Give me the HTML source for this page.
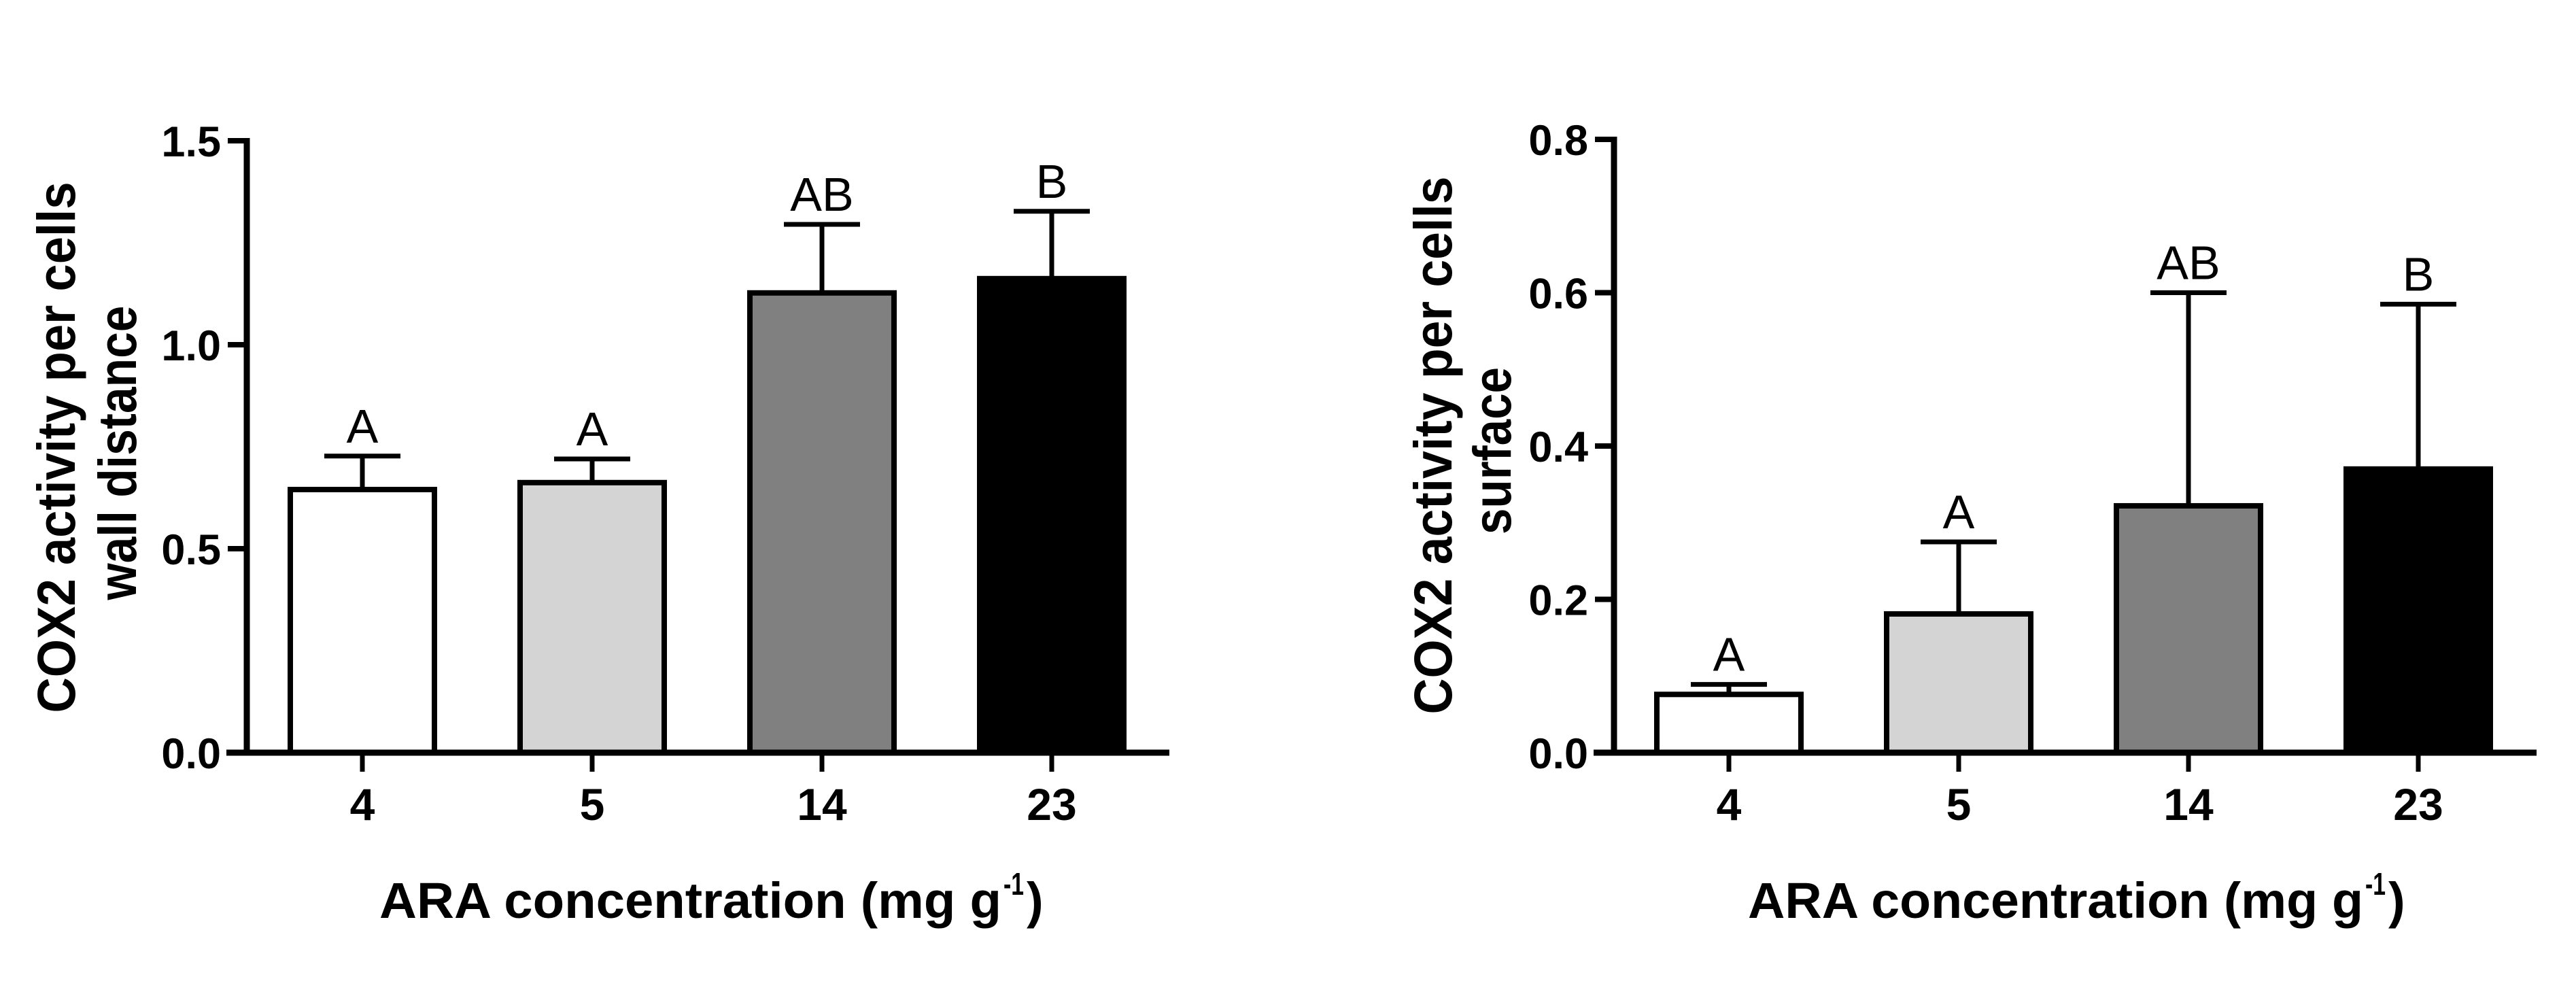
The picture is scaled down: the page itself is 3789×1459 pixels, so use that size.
<!DOCTYPE html>
<html><head><meta charset="utf-8"><style>
html,body{margin:0;padding:0;background:#fff;}
svg{display:block;}
text{font-family:"Liberation Sans",Arial,sans-serif;fill:#000;}
</style></head>
<body>
<svg id="fig" width="3789" height="1459" viewBox="0 0 3789 1459" xmlns="http://www.w3.org/2000/svg"></svg>
<script>
const categories = ["4","5","14","23"];
const fills = ["#ffffff","#d4d4d4","#808080","#000000"];
const leftValues = [0.645, 0.662, 1.127, 1.162];
const leftErrors = [0.082, 0.058, 0.168, 0.165];
const leftLetters = ["A","A","AB","B"];
const leftTicks = [0.0, 0.5, 1.0, 1.5];
const rightValues = [0.076, 0.181, 0.322, 0.370];
const rightErrors = [0.013, 0.094, 0.278, 0.215];
const rightLetters = ["A","A","AB","B"];
const rightTicks = [0.0, 0.2, 0.4, 0.6, 0.8];

const NS = "http://www.w3.org/2000/svg";
const svg = document.getElementById("fig");
function mk(tag, attrs, parent){
  const e = document.createElementNS(NS, tag);
  for (const k in attrs) e.setAttribute(k, attrs[k]);
  (parent||svg).appendChild(e);
  return e;
}

function drawPanel(p){
  const g = mk("g", {});
  
  
  const y = v => p.y0 - (v / p.yMax) * (p.y0 - p.yTop);
  const xc = i => p.firstCenter + i * p.step;

  categories.forEach((c, i) => {
    const v = p.values[i], top = y(v), cx = xc(i);
    const e = p.errors[i], capY = y(v + e);
    const eb = mk("line", {x1:cx, x2:cx, y1:top, y2:capY, stroke:"#000", "stroke-width":7}, g);
    
    
    const cap = mk("line", {x1:cx-56, x2:cx+56, y1:capY, y2:capY, stroke:"#000", "stroke-width":7}, g);
    
    
    const b = mk("rect", {x:cx - p.barW/2 + 4, y:top, width:p.barW - 8, height:p.y0 - top, fill:fills[i], stroke:"#000", "stroke-width":8}, g);
    
    
    const lt = mk("text", {x:cx, y:capY - 20, "font-size":70, "text-anchor":"middle"}, g);
    lt.textContent = p.letters[i];
    
    
    const tk = mk("line", {x1:cx, x2:cx, y1:p.y0, y2:p.y0 + 28, stroke:"#000", "stroke-width":7}, g);
    
    
    const tl = mk("text", {x:cx, y:1206, "font-size":66, "font-weight":"bold", "text-anchor":"middle"}, g);
    tl.textContent = c;
    
    
  });

  const ya = mk("line", {x1:p.ax, x2:p.ax, y1:p.yTop - 4, y2:p.y0 + 4, stroke:"#000", "stroke-width":9}, g);
  
  
  const xa = mk("line", {x1:p.ax - 30, x2:p.xEnd, y1:p.y0, y2:p.y0, stroke:"#000", "stroke-width":9}, g);
  
  

  p.ticks.forEach(t => {
    const ty = y(t);
    const tk = mk("line", {x1:p.ax - 28, x2:p.ax, y1:ty, y2:ty, stroke:"#000", "stroke-width":8}, g);
    
    
    const tl = mk("text", {x:p.ax - 38, y:ty + 23, "font-size":63, "font-weight":"bold", "text-anchor":"end"}, g);
    tl.textContent = t.toFixed(1);
    
    
  });

  const t1 = mk("text", {x:0, y:0, "font-size":79, "font-weight":"bold", "text-anchor":"middle",
    transform:`translate(${p.yt1x},${p.yt1c}) rotate(-90)`, textLength:p.yt1len, lengthAdjust:"spacingAndGlyphs"}, g);
  t1.textContent = "COX2 activity per cells";
  
  
  const t2 = mk("text", {x:0, y:0, "font-size":79, "font-weight":"bold", "text-anchor":"middle",
    transform:`translate(${p.yt2x},${p.yt2c}) rotate(-90)`, textLength:p.yt2len, lengthAdjust:"spacingAndGlyphs"}, g);
  t2.textContent = p.line2;
  
  

  const xt = mk("text", {x:p.xtX, y:1350, "font-size":74, "font-weight":"bold", textLength:p.xtLen - 55, lengthAdjust:"spacingAndGlyphs"}, g);
  xt.textContent = "ARA concentration (mg g";
  
  
  const sup = mk("text", {x:p.xtX + p.xtLen - 52, y:1316, "font-size":46, "font-weight":"bold", textLength:30, lengthAdjust:"spacingAndGlyphs"}, g);
  sup.textContent = "-1";
  
  
  const par = mk("text", {x:p.xtX + p.xtLen - 18, y:1350, "font-size":74, "font-weight":"bold"}, g);
  par.textContent = ")";
  
  
}

drawPanel({name:"left-chart", values:leftValues, errors:leftErrors, letters:leftLetters, ticks:leftTicks,
  yMax:1.5, y0:1107, yTop:207, ax:363, xEnd:1720, firstCenter:533, step:338, barW:220,
  yt1x:110, yt1c:658, yt1len:781, yt2x:200, yt2c:666, yt2len:433, line2:"wall distance",
  xtX:558, xtLen:970});
drawPanel({name:"right-chart", values:rightValues, errors:rightErrors, letters:rightLetters, ticks:rightTicks,
  yMax:0.8, y0:1107, yTop:205, ax:2374, xEnd:3731, firstCenter:2543, step:338, barW:220,
  yt1x:2135, yt1c:655, yt1len:791, yt2x:2222, yt2c:663, yt2len:246, line2:"surface",
  xtX:2571, xtLen:960});
</script>
</body></html>
